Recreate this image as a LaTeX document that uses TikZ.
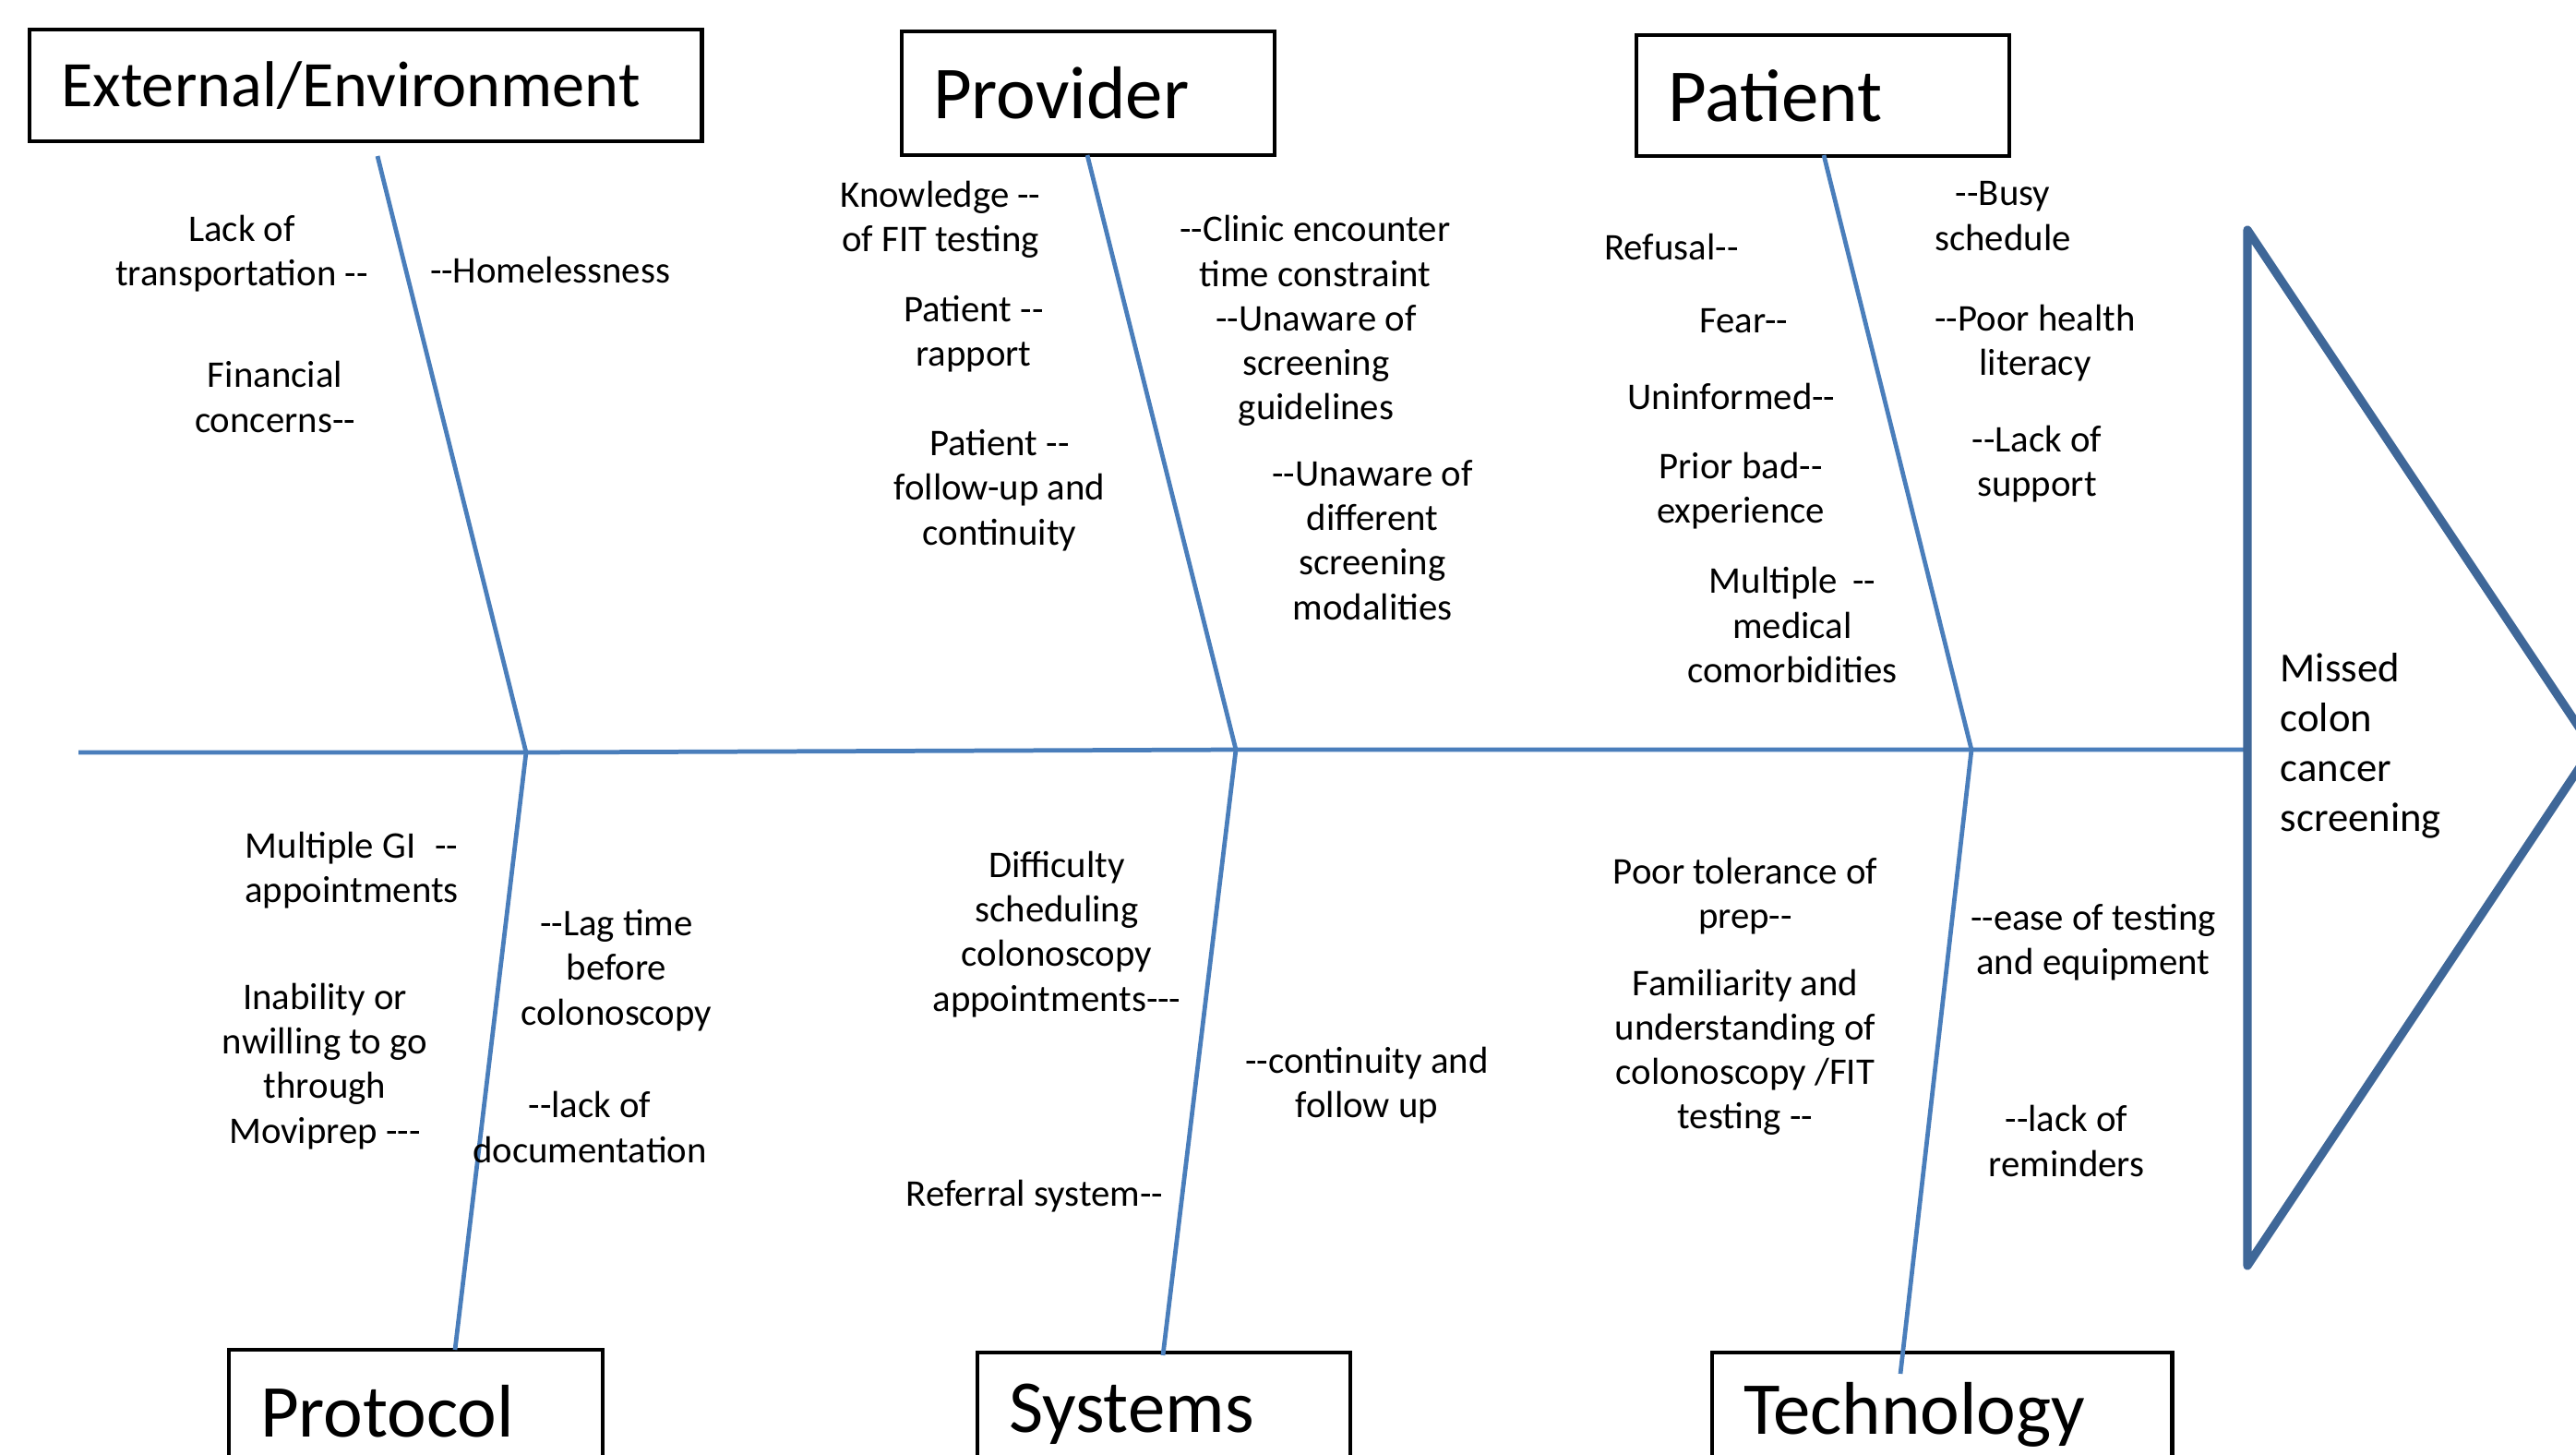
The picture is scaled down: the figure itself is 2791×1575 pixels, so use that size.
\documentclass[tikz,border=0pt]{standalone}
\usepackage{fontspec}
\setmainfont{Carlito}[Ligatures=TeXOff]
\definecolor{bonec}{HTML}{4A7EBB}
\definecolor{headc}{HTML}{3F6798}
\tikzset{
  bone/.style={draw=bonec, line width=1.35pt},
  titlebox/.style={draw=black, line width=1.2pt, inner xsep=0.34cm, align=left, anchor=north west, inner ysep=0pt},
  ttl/.style={font=\fontsize{23}{28}\selectfont},
  lbl/.style={font=\fontsize{11.6}{13.7}\selectfont, align=center, inner sep=0pt},
}
\begin{document}
\begin{tikzpicture}[x=0.01cm, y=-0.01cm]
\useasboundingbox (0,0) rectangle (2791,1575);
\clip (0,0) rectangle (2791,1575);
% boxes
\node[titlebox, text width=6.60cm, minimum height=1.21cm, font=\fontsize{20}{24}\selectfont] (ext) at (30,30) {External/Environment};
\node[titlebox, ttl, text width=3.36cm, minimum height=1.34cm] (prov) at (975,32) {Provider};
\node[titlebox, ttl, text width=3.36cm, minimum height=1.31cm] (pat) at (1771,36) {Patient};
\node[titlebox, ttl, text width=3.37cm, minimum height=1.34cm] (prot) at (246,1460) {Protocol};
\node[titlebox, ttl, text width=3.36cm, minimum height=1.34cm] (sys) at (1057,1463) {Systems};
\node[titlebox, ttl, text width=4.30cm, minimum height=1.34cm] (tech) at (1853,1463) {Technology};
% spine coordinates
\coordinate (spL) at (85,815);
\coordinate (j1) at (570,815);
\coordinate (j2) at (1339,812);
\coordinate (j3) at (2136,812);
\coordinate (spR) at (2435,812);
\coordinate (extE) at (409,169);
\coordinate (provE) at (1178,168);
\coordinate (patE) at (1976,168);
\coordinate (protE) at (493,1462);
\coordinate (sysE) at (1260,1468);
\coordinate (techE) at (2059,1488);
\draw[bone] (spL) -- (j1) -- (j2) -- (j3) -- (spR);
\draw[bone] (extE) -- (j1) -- (protE);
\draw[bone] (provE) -- (j2) -- (sysE);
\draw[bone] (patE) -- (j3) -- (techE);
% head
\draw[draw=headc, line width=2.6pt, line join=round] (2435,249) -- (2809,810) -- (2435,1371) -- cycle;
\node[font=\fontsize{12.7}{15.4}\selectfont, align=left, anchor=west, inner sep=0pt] (head) at (2470,808) {Missed\\colon\\cancer\\screening};
% External
\node[lbl] (e1) at (262,275) {Lack of\\transportation --};
\node[lbl] (e2) at (298,430) {Financial\\concerns--};
\node[lbl] (e3) at (596,292) {--Homelessness};
% Provider
\node[lbl] (p1) at (1019,238) {Knowledge --\\of FIT testing};
\node[lbl] (p2) at (1055,362) {Patient --\\rapport};
\node[lbl] (p3) at (1083,531) {Patient --\\follow-up and\\continuity};
\node[lbl] (p4) at (1425,272) {--Clinic encounter\\time constraint};
\node[lbl] (p5) at (1426,396) {--Unaware of\\screening\\guidelines};
\node[lbl] (p6) at (1487,585) {--Unaware of\\different\\screening\\modalities};
% Patient
\node[lbl] (q1) at (1811,267) {Refusal--};
\node[lbl] (q2) at (1889,348) {Fear--};
\node[lbl] (q3) at (1876,429) {Uninformed--};
\node[lbl] (q4) at (1886,532) {Prior bad--\\experience};
\node[lbl] (q5) at (1942,677) {Multiple \,--\\medical\\comorbidities};
\node[lbl] (q6) at (2170,234) {--Busy\\schedule};
\node[lbl] (q7) at (2205,372) {--Poor health\\literacy};
\node[lbl] (q8) at (2207,503) {--Lack of\\support};
% Protocol
\node[lbl] (r1) at (381,943) {Multiple GI \;--\\appointments};
\node[lbl] (r2) at (352,1155) {Inability or\\nwilling to go\\through\\Moviprep ---};
\node[lbl] (r3) at (668,1051) {--Lag time\\before\\colonoscopy};
\node[lbl] (r4) at (639,1221) {--lack of\\documentation};
% Systems
\node[lbl] (s1) at (1145,1012) {Difficulty\\scheduling\\colonoscopy\\appointments---};
\node[lbl] (s2) at (1121,1296) {Referral system--};
\node[lbl] (s3) at (1481,1176) {--continuity and\\follow up};
% Technology
\node[lbl] (u1) at (1891,971) {Poor tolerance of\\prep--};
\node[lbl] (u2) at (1891,1140) {Familiarity and\\understanding of\\colonoscopy /FIT\\testing --};
\node[lbl] (u3) at (2268,1021) {--ease of testing\\and equipment};
\node[lbl] (u4) at (2239,1236) {--lack of\\reminders};
\end{tikzpicture}
\end{document}
